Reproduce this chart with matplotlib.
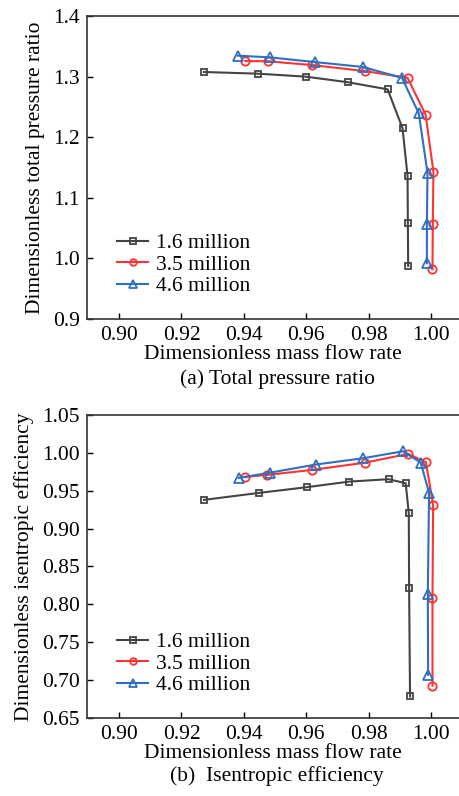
import matplotlib
matplotlib.use("Agg")
import matplotlib.pyplot as plt

plt.rcParams['font.family'] = ['Liberation Serif', 'DejaVu Serif']
plt.rcParams['font.size'] = 15.5

series_names = ['1.6 million', '3.5 million', '4.6 million']
colors = ['#444444', '#ff3333', '#2f6fc0']
markers = ['s', 'o', '^']
marker_sizes = [5, 6, 7]

# (a) total pressure ratio
flow_a = [
    [0.9272, 0.9447, 0.9599, 0.9735, 0.9861, 0.9909, 0.9925, 0.9926, 0.9927],
    [0.9405, 0.9479, 0.9620, 0.9790, 0.9925, 0.9983, 1.0008, 1.0006, 1.0005],
    [0.9381, 0.9483, 0.9628, 0.9781, 0.9907, 0.9961, 0.9989, 0.9987, 0.9987],
]
pr_a = [
    [1.3076, 1.3048, 1.2999, 1.2906, 1.2790, 1.2147, 1.1360, 1.0580, 0.9875],
    [1.3257, 1.3252, 1.3190, 1.3090, 1.2980, 1.2370, 1.1426, 1.0563, 0.9820],
    [1.3345, 1.3318, 1.3240, 1.3160, 1.2980, 1.2394, 1.1414, 1.0563, 0.9920],
]

# (b) isentropic efficiency
flow_b = [
    [0.9272, 0.9448, 0.9601, 0.9737, 0.9864, 0.9919, 0.9929, 0.9930, 0.9933],
    [0.9404, 0.9475, 0.9620, 0.9790, 0.9927, 0.9984, 1.0007, 1.0005, 1.0005],
    [0.9384, 0.9485, 0.9630, 0.9783, 0.9911, 0.9967, 0.9994, 0.9990, 0.9991],
]
eff_b = [
    [0.9379, 0.9471, 0.9546, 0.9620, 0.9652, 0.9599, 0.9203, 0.8222, 0.6784],
    [0.9682, 0.9709, 0.9775, 0.9871, 0.9986, 0.9876, 0.9313, 0.8082, 0.6926],
    [0.9669, 0.9739, 0.9845, 0.9929, 1.0021, 0.9871, 0.9475, 0.8139, 0.7071],
]

x_ticks = [0.90, 0.92, 0.94, 0.96, 0.98, 1.00]
y_ticks_a = [0.9, 1.0, 1.1, 1.2, 1.3, 1.4]
y_ticks_b = [0.65, 0.70, 0.75, 0.80, 0.85, 0.90, 0.95, 1.00, 1.05]

fig = plt.figure(figsize=(4.59, 7.96), dpi=100)
ax_a = fig.add_axes([0.1895, 0.5992, 0.8105, 0.3807])
ax_b = fig.add_axes([0.1895, 0.0980, 0.8105, 0.3807])


def draw(ax, xs, ys, yticks, yfmt, ylabel):
    for x, y, name, c, m, ms in zip(xs, ys, series_names, colors, markers, marker_sizes):
        ax.plot(x, y, color=c, marker=m, markersize=ms, markerfacecolor='none',
                markeredgewidth=1.3, linewidth=1.5, label=name)
    ax.set_xlim(0.8897, 1.009)
    ax.set_ylim(yticks[0], yticks[-1])
    ax.set_xticks(x_ticks)
    ax.set_xticklabels(['%.2f' % v for v in x_ticks])
    ax.set_yticks(yticks)
    ax.set_yticklabels([yfmt % v for v in yticks])
    ax.tick_params(direction='in', length=4, width=1, top=False, right=False, pad=5)
    ax.spines['right'].set_visible(False)
    for s in ['left', 'bottom', 'top']:
        ax.spines[s].set_linewidth(1.2)
        ax.spines[s].set_color('#333333')
    ax.set_xlabel('Dimensionless mass flow rate', labelpad=0)
    ax.set_ylabel(ylabel, labelpad=6)
    ax.legend(loc='lower left', bbox_to_anchor=(0.04, 0.025), frameon=False,
              handlelength=1.45, handletextpad=0.35, labelspacing=0.07,
              borderaxespad=0.3, markerscale=0.8)


draw(ax_a, flow_a, pr_a, y_ticks_a, '%.1f', 'Dimensionless total pressure ratio')
draw(ax_b, flow_b, eff_b, y_ticks_b, '%.2f', 'Dimensionless isentropic efficiency')

fig.text(277 / 459, 1 - 379 / 796, '(a) Total pressure ratio', ha='center', va='center')
fig.text(277 / 459, 1 - 776 / 796, '(b)  Isentropic efficiency', ha='center', va='center')

fig.savefig('out.png', dpi=100)
